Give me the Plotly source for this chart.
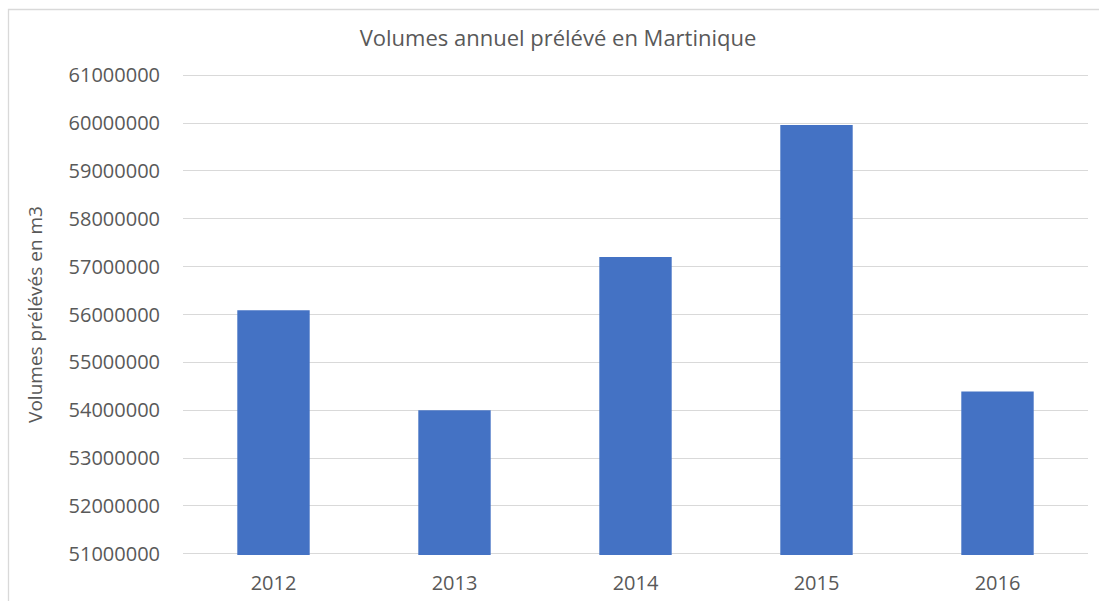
import plotly.graph_objects as go

years = ["2012", "2013", "2014", "2015", "2016"]
volumes = [56090000, 54000000, 57200000, 59960000, 54390000]

W, H = 1099, 601
L, R, T, B = 183, 1088, 74, 555

fig = go.Figure(go.Bar(x=years, y=volumes, marker_color="#4472C4",
                       marker_line_width=0, width=0.4))

font = "Open Sans"
fig.update_layout(
    width=W, height=H,
    margin=dict(l=L, r=W - R, t=T, b=H - B, pad=0, autoexpand=False),
    paper_bgcolor="white", plot_bgcolor="white",
    showlegend=False,
    title=dict(text="Volumes annuel prélévé en Martinique", x=558 / W, xref="container",
               xanchor="center", y=1 - 38 / H, yref="container", yanchor="middle",
               font=dict(family=font, size=22, color="#595959")),
    bargap=0.6,
)
fig.update_yaxes(range=[50975000, 61025000], dtick=1000000, tick0=51000000, tickformat="d",
                 showgrid=True, gridcolor="#D9D9D9", gridwidth=1.3,
                 zeroline=False, showline=False, ticks="", automargin=False,
                 ticklabelstandoff=22,
                 tickfont=dict(family=font, size=20, color="#595959"),
                 title=dict(text="Volumes prélévés en m3", standoff=20,
                            font=dict(family=font, size=19, color="#595959")))
fig.update_xaxes(showgrid=False, showline=False, ticks="", ticklabelstandoff=14,
                 automargin=False,
                 tickfont=dict(family=font, size=20, color="#595959"))

# chart frame
fig.add_shape(type="rect", xref="paper", yref="paper",
              x0=(8.5 - L) / (R - L), x1=(1110 - L) / (R - L),
              y0=(B - 620) / (B - T), y1=(B - 9.5) / (B - T),
              line=dict(color="#D9D9D9", width=1.3), fillcolor="rgba(0,0,0,0)",
              layer="below")

fig.write_html("out.html")
